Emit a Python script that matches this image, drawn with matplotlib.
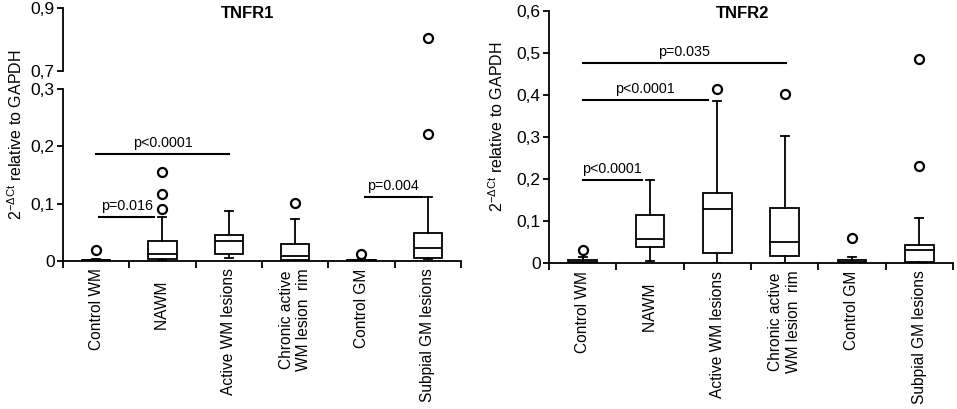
import numpy as np
import matplotlib
matplotlib.use('Agg')
import matplotlib.pyplot as plt
from matplotlib.ticker import FuncFormatter

plt.rcParams['font.family'] = ['Liberation Sans', 'DejaVu Sans']
plt.rcParams['mathtext.fontset'] = 'custom'
plt.rcParams['mathtext.rm'] = 'Liberation Sans'
plt.rcParams['mathtext.it'] = 'Liberation Sans'
plt.rcParams['mathtext.bf'] = 'Liberation Sans:bold'

categories = ['Control WM', 'NAWM   ', 'Active WM lesions',
              'Chronic active\nWM lesion  rim', 'Control GM', 'Subpial GM lesions']

# TNFR1 box stats
r1_whislo = [0.0, 0.002, 0.006, 0.0, 0.0, 0.004]
r1_q1 = [0.0, 0.004, 0.012, 0.001, 0.0, 0.006]
r1_med = [0.001, 0.013, 0.034, 0.009, 0.001, 0.023]
r1_q3 = [0.002, 0.034, 0.046, 0.029, 0.002, 0.048]
r1_whishi = [0.004, 0.077, 0.087, 0.073, 0.003, 0.112]
r1_fliers = [[0.020], [0.091, 0.116, 0.156], [], [0.102], [0.012], [0.222, 0.806]]
r1_p_text = ['p=0.016', 'p<0.0001', 'p=0.004']
r1_p_y = [0.077, 0.187, 0.112]
r1_p_from = [0.05, 0.0, 4.05]
r1_p_to = [0.87, 2.0, 4.91]

# TNFR2 box stats
r2_whislo = [0.0, 0.004, 0.0, 0.0, 0.0, 0.0]
r2_q1 = [0.0, 0.038, 0.024, 0.017, 0.0, 0.002]
r2_med = [0.002, 0.056, 0.128, 0.051, 0.002, 0.030]
r2_q3 = [0.006, 0.115, 0.167, 0.132, 0.006, 0.042]
r2_whishi = [0.015, 0.198, 0.386, 0.302, 0.015, 0.106]
r2_fliers = [[0.030], [], [0.415], [0.402], [0.060], [0.232, 0.485]]
r2_p_text = ['p<0.0001', 'p<0.0001', 'p=0.035']
r2_p_y = [0.198, 0.388, 0.477]
r2_p_from = [0.0, 0.0, 0.0]
r2_p_to = [0.88, 1.86, 3.02]

ylabel = r'2$^{-\Delta \mathrm{Ct}}$ relative to GAPDH'


def make_stats(wlo, q1, med, q3, whi, fl):
    return [dict(whislo=wlo[i], q1=q1[i], med=med[i], q3=q3[i], whishi=whi[i], fliers=fl[i])
            for i in range(len(wlo))]


def comma_fmt(v, pos):
    return ('%g' % round(v, 2)).replace('.', ',')


def draw_boxes(ax, stats):
    ax.bxp(stats, positions=range(6), widths=0.43, capwidths=0.12, patch_artist=True,
           manage_ticks=False,
           boxprops=dict(facecolor='white', edgecolor='black', linewidth=1.3),
           medianprops=dict(color='black', linewidth=1.3),
           whiskerprops=dict(color='black', linewidth=1.3),
           capprops=dict(color='black', linewidth=1.3),
           flierprops=dict(marker='o', markerfacecolor='white', markeredgecolor='black',
                           markersize=6.5, markeredgewidth=1.6))


def style_axis(ax):
    ax.spines['top'].set_visible(False)
    ax.spines['right'].set_visible(False)
    ax.spines['left'].set_linewidth(1.3)
    ax.spines['bottom'].set_linewidth(1.3)
    ax.yaxis.set_major_formatter(FuncFormatter(comma_fmt))
    ax.tick_params(axis='y', labelsize=12.5, length=4, width=1.3, pad=2)
    ax.set_xlim(-0.5, 5.5)
    ax.set_xticks(np.arange(-0.5, 6, 1))
    ax.set_xticklabels([])
    ax.tick_params(axis='x', which='major', length=5, width=1.3, direction='out')
    ax.set_xticks(range(6), minor=True)
    ax.set_xticklabels(categories, minor=True, rotation=90, fontsize=11.2,
                       va='top', ha='center', multialignment='center')
    ax.tick_params(axis='x', which='minor', length=0, pad=5.5)


def draw_pvals(ax, texts, ys, x0s, x1s):
    for t, y, a, b in zip(texts, ys, x0s, x1s):
        ax.plot([a, b], [y, y], color='black', linewidth=1.5)
        ax.annotate(t, xy=((a + b) / 2, y), xytext=(0, 3), textcoords='offset points',
                    ha='center', va='bottom', fontsize=10.3)


fig = plt.figure(figsize=(9.57, 4.09), dpi=100)

stats1 = make_stats(r1_whislo, r1_q1, r1_med, r1_q3, r1_whishi, r1_fliers)
stats2 = make_stats(r2_whislo, r2_q1, r2_med, r2_q3, r2_whishi, r2_fliers)

# TNFR1 - broken axis
ax1 = fig.add_axes([0.0658, 0.3619, 0.4159, 0.4205])
ax1u = fig.add_axes([0.0658, 0.8264, 0.4159, 0.154])
draw_boxes(ax1, stats1)
draw_boxes(ax1u, stats1)
ax1.set_ylim(0, 0.3)
ax1.set_yticks([0, 0.1, 0.2, 0.3])
style_axis(ax1)
draw_pvals(ax1, r1_p_text, r1_p_y, r1_p_from, r1_p_to)

ax1u.set_ylim(0.7, 0.9)
ax1u.set_xlim(-0.5, 5.5)
ax1u.set_yticks([0.7, 0.9])
ax1u.yaxis.set_major_formatter(FuncFormatter(comma_fmt))
ax1u.tick_params(axis='y', labelsize=12.5, length=4, width=1.3, pad=2)
for s in ['top', 'right', 'bottom']:
    ax1u.spines[s].set_visible(False)
ax1u.spines['left'].set_linewidth(1.3)
ax1u.set_xticks([])

# TNFR2
ax2 = fig.add_axes([0.5737, 0.357, 0.4221, 0.616])
draw_boxes(ax2, stats2)
ax2.set_ylim(0, 0.6)
ax2.set_yticks(np.arange(0, 0.61, 0.1))
style_axis(ax2)
draw_pvals(ax2, r2_p_text, r2_p_y, r2_p_from, r2_p_to)

fig.text(0.259, 0.968, 'TNFR1', ha='center', va='center', fontsize=12, fontweight='bold')
fig.text(0.776, 0.968, 'TNFR2', ha='center', va='center', fontsize=12, fontweight='bold')
fig.text(0.016, 0.67, ylabel, rotation=90, ha='center', va='center', fontsize=11.5)
fig.text(0.519, 0.69, ylabel, rotation=90, ha='center', va='center', fontsize=11.5)

fig.savefig('out.png', dpi=100)
